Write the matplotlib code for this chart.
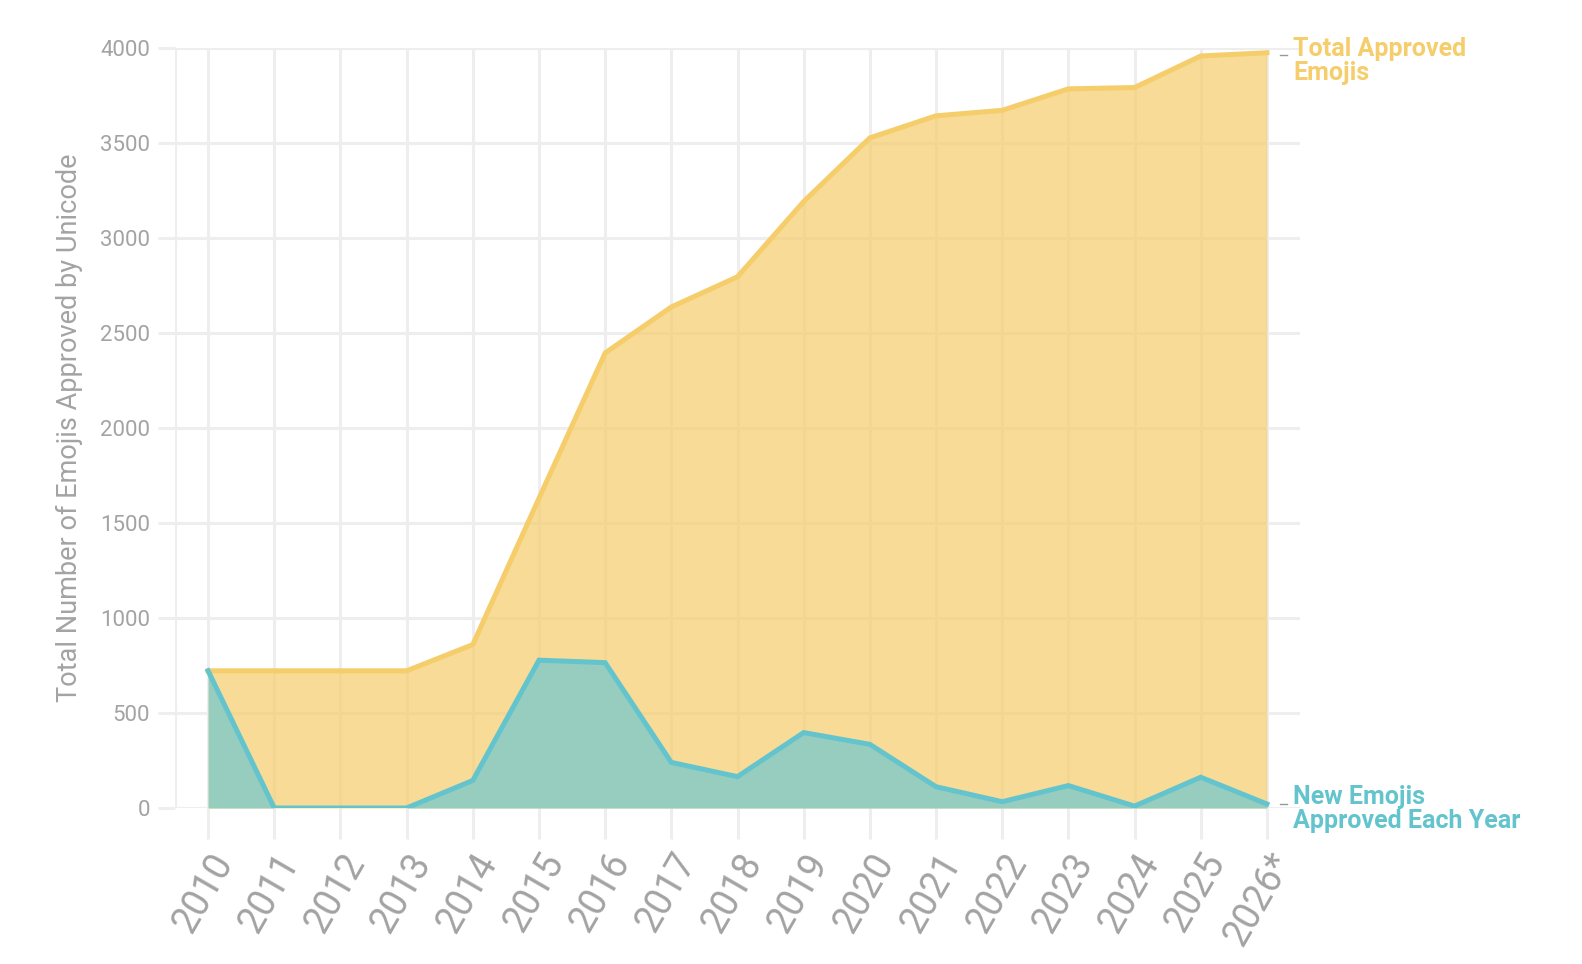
import matplotlib.pyplot as plt
import numpy as np

# data
years = [2010, 2011, 2012, 2013, 2014, 2015, 2016, 2017, 2018,
         2019, 2020, 2021, 2022, 2023, 2024, 2025, 2026]
year_labels = ['2010', '2011', '2012', '2013', '2014', '2015', '2016', '2017', '2018',
               '2019', '2020', '2021', '2022', '2023', '2024', '2025', '2026*']
total_emojis = [722, 722, 722, 722, 860, 1630, 2395, 2637, 2796,
                3192, 3527, 3643, 3672, 3785, 3792, 3958, 3975]
new_emojis = [722, 0, 0, 0, 145, 778, 765, 240, 165,
              397, 335, 112, 33, 118, 10, 162, 21]
y_ticks = [0, 500, 1000, 1500, 2000, 2500, 3000, 3500, 4000]

yellow = '#F5CD6B'
teal = '#64C4CD'
teal_fill = '#96CDBF'
grid_c = '#EEEEEE'
text_c = '#A3A3A3'

plt.rcParams['font.family'] = ['Roboto', 'DejaVu Sans']

fig = plt.figure(figsize=(15.82, 9.64), dpi=100)
ax = fig.add_axes([175 / 1582, 1 - 808 / 964, (1300 - 175) / 1582, (808 - 48) / 964])

# filled areas
ax.fill_between(years, total_emojis, 0, color=yellow, alpha=0.7, linewidth=0, zorder=2)
ax.plot(years, total_emojis, color=yellow, linewidth=3.6, zorder=4, solid_joinstyle='miter')
ax.fill_between(years, new_emojis, 0, color=teal_fill, linewidth=0, zorder=3)
ax.plot(years, new_emojis, color=teal, linewidth=3.6, zorder=5, solid_joinstyle='miter')

ax.set_xlim(2009.5, 2026.5)
ax.set_ylim(0, 4000)
ax.set_xticks(years)
ax.set_xticklabels(year_labels, rotation=60, ha='right', rotation_mode='anchor',
                   fontsize=27, color=text_c)
ax.set_yticks(y_ticks)
ax.set_yticklabels([str(v) for v in y_ticks], fontsize=16, color=text_c)
ax.tick_params(axis='x', length=22, width=2.2, color=grid_c, pad=6)
ax.tick_params(axis='y', length=12, width=2.2, color=grid_c, pad=6)

ax.grid(True, color=grid_c, linewidth=2.2, zorder=1)
ax.set_axisbelow(True)
for s in ax.spines.values():
    s.set_visible(False)
ax.axvline(2009.5, color=grid_c, linewidth=2.2, zorder=1)

ax.set_ylabel('Total Number of Emojis Approved by Unicode', fontsize=19.5, color=text_c, labelpad=12)

# direct labels on the right
ax.plot([2026.2, 2026.3], [total_emojis[-1] - 10, total_emojis[-1] - 10],
        color='#999999', linewidth=1, clip_on=False)
ax.plot([2026.2, 2026.3], [new_emojis[-1], new_emojis[-1]],
        color='#999999', linewidth=1, clip_on=False)
ax.text(2026.4, total_emojis[-1] - 45, 'Total Approved\nEmojis', color=yellow, fontsize=18,
        fontweight='bold', va='center', ha='left', linespacing=1.02, clip_on=False)
ax.text(2026.4, new_emojis[-1] - 25, 'New Emojis\nApproved Each Year', color=teal, fontsize=18,
        fontweight='bold', va='center', ha='left', linespacing=1.02, clip_on=False)

fig.savefig('out.png', dpi=100, facecolor='white')
